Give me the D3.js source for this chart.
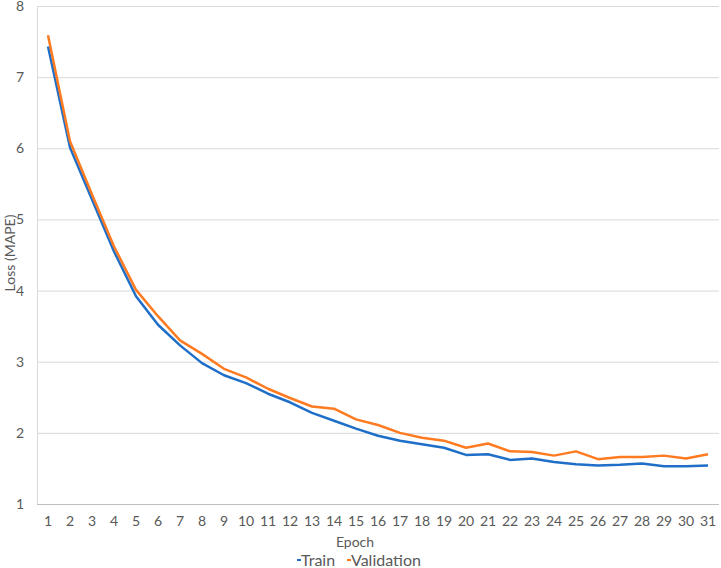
<!DOCTYPE html>
<html>
<head>
<meta charset="utf-8">
<script src="https://cdn.jsdelivr.net/npm/d3@7"></script>
<style>
  body { margin: 0; background: #fff; }
  text { font-family: Lato, "Open Sans", sans-serif; fill: #595959; }
</style>
</head>
<body>
<svg id="chart"></svg>
<script>
/*
    DATA
*/
var epochs = d3.range(1, 32);
var trainLoss = [7.43, 6.01, 5.28, 4.55, 3.92, 3.52, 3.23, 2.98, 2.81, 2.70,
                 2.55, 2.43, 2.28, 2.17, 2.06, 1.96, 1.89, 1.84, 1.79, 1.69,
                 1.70, 1.62, 1.64, 1.59, 1.56, 1.54, 1.55, 1.57, 1.53, 1.53, 1.54];
var valLoss   = [7.59, 6.10, 5.35, 4.62, 4.01, 3.64, 3.30, 3.11, 2.90, 2.78,
                 2.62, 2.49, 2.37, 2.34, 2.19, 2.11, 2.00, 1.93, 1.89, 1.79,
                 1.85, 1.74, 1.73, 1.68, 1.74, 1.63, 1.66, 1.66, 1.68, 1.64, 1.70];
var yTicks = [1, 2, 3, 4, 5, 6, 7, 8];

var series = [
  {name: "Train", values: trainLoss, color: "#1F6FC8"},
  {name: "Validation", values: valLoss, color: "#FF7B22"}
];

/*
    LAYOUT
*/
var width = 721, height = 568;
var plot = {left: 37, right: 719, top: 6, bottom: 504};

var svg = d3.select("#chart")
  .attr("width", width)
  .attr("height", height);

var x = d3.scaleBand()
  .domain(epochs)
  .range([plot.left, plot.right]);

var y = d3.scaleLinear()
  .domain([1, 8])
  .range([plot.bottom, plot.top]);

// gridlines
svg.append("g")
  .selectAll("line")
  .data(yTicks.slice(1))
  .enter().append("line")
  .attr("x1", plot.left).attr("x2", plot.right)
  .attr("y1", function(d) { return y(d) + 0.5; })
  .attr("y2", function(d) { return y(d) + 0.5; })
  .style("stroke", "#d9d9d9")
  .style("stroke-width", 1);

// axes lines
svg.append("line")
  .attr("x1", plot.left + 0.5).attr("x2", plot.left + 0.5)
  .attr("y1", plot.top).attr("y2", plot.bottom)
  .style("stroke", "#d9d9d9");
svg.append("line")
  .attr("x1", plot.left).attr("x2", plot.right)
  .attr("y1", plot.bottom + 0.5).attr("y2", plot.bottom + 0.5)
  .style("stroke", "#bfbfbf");

// y axis labels
var yAxis = svg.append("g")
  .attr("transform", "translate(" + plot.left + ",0)")
  .call(d3.axisLeft(y).tickValues(yTicks).tickFormat(d3.format("d"))
    .tickSize(0).tickPadding(13));
yAxis.select(".domain").remove();
yAxis.selectAll("text")
  .style("font-size", "14px")
  .style("fill", "#595959");

// x axis labels
var xAxis = svg.append("g")
  .attr("transform", "translate(0," + plot.bottom + ")")
  .call(d3.axisBottom(x).tickSize(0).tickPadding(12));
xAxis.select(".domain").remove();
xAxis.selectAll("text")
  .style("font-size", "14px")
  .style("fill", "#595959");

// axis titles
svg.append("text")
  .attr("x", 355)
  .attr("y", 547)
  .style("text-anchor", "middle")
  .style("font-size", "14px")
  .text("Epoch");

svg.append("text")
  .attr("transform", "translate(15,253) rotate(-90)")
  .style("text-anchor", "middle")
  .style("font-size", "14px")
  .text("Loss (MAPE)");

// lines
var line = d3.line()
  .x(function(d, i) { return x(epochs[i]) + x.bandwidth() / 2; })
  .y(function(d) { return y(d); });

svg.selectAll(".series")
  .data(series)
  .enter().append("path")
  .attr("class", "series")
  .attr("d", function(d) { return line(d.values); })
  .style("fill", "none")
  .style("stroke", function(d) { return d.color; })
  .style("stroke-width", 2.5)
  .style("stroke-linejoin", "round");

// legend
var legendX = [297, 347];
var legend = svg.selectAll(".legend")
  .data(series)
  .enter().append("g")
  .attr("class", "legend")
  .attr("transform", function(d, i) { return "translate(" + legendX[i] + ",560)"; });

legend.append("line")
  .attr("x1", 0).attr("x2", 4)
  .attr("y1", 0).attr("y2", 0)
  .style("stroke", function(d) { return d.color; })
  .style("stroke-width", 2);

legend.append("text")
  .attr("x", 4)
  .attr("y", 5.5)
  .style("font-size", "16px")
  .text(function(d) { return d.name; });
</script>
</body>
</html>
